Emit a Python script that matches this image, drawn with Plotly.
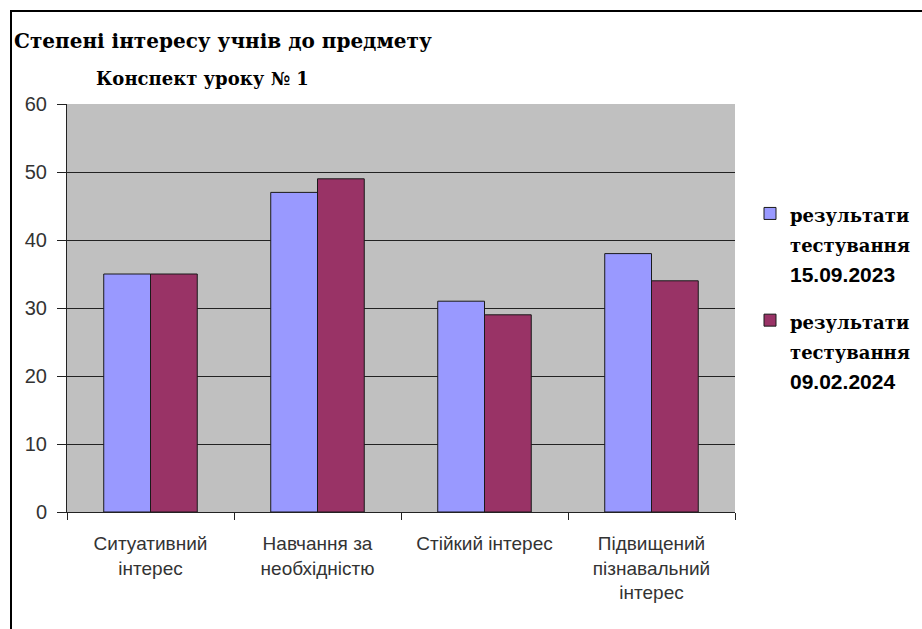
import plotly.graph_objects as go

# Data
categories = [
    "Ситуативний<br>інтерес",
    "Навчання за<br>необхідністю",
    "Стійкий інтерес",
    "Підвищений<br>пізнавальний<br>інтерес",
]
series_2023 = [35, 47, 31, 38]
series_2024 = [35, 49, 29, 34]
legend_lines_2023 = ["результати", "тестування", "15.09.2023"]
legend_lines_2024 = ["результати", "тестування", "09.02.2024"]
y_ticks = [0, 10, 20, 30, 40, 50, 60]

W, H = 922, 629
L, R, T, B = 67, 187, 104, 117
pw, ph = W - L - R, H - T - B

SERIF = "DejaVu Serif, Liberation Serif, serif"
SANS = "Liberation Sans, Arial, sans-serif"


def px_x(p):
    return (p - L) / pw


def px_y(p):
    return (H - B - p) / ph


def legend_label(lines):
    # two serif words above a sans-serif date, all bold
    return (
        f"<span style='font-family:{SERIF};font-size:18px'><b>{lines[0]}</b></span><br>"
        f"<span style='font-family:{SERIF};font-size:18px'><b>{lines[1]}</b></span><br>"
        f"<span style='font-family:{SANS};font-size:21px'><b>{lines[2]}</b></span>"
    )


fig = go.Figure()
fig.add_trace(go.Bar(
    x=categories, y=series_2023, name=legend_label(legend_lines_2023),
    legendgroup="first",
    marker=dict(color="#9999ff", line=dict(color="#1a1a1a", width=1)),
))
fig.add_trace(go.Bar(
    x=categories, y=series_2024, name=legend_label(legend_lines_2024),
    legendgroup="second",
    marker=dict(color="#993366", line=dict(color="#1a1a1a", width=1)),
))

# hide the gridline on the top edge of the plot area
fig.add_shape(
    type="line", xref="paper", yref="y",
    x0=0, x1=1, y0=y_ticks[-1], y1=y_ticks[-1],
    line=dict(color="#c0c0c0", width=3), layer="below",
)

# outer frame
fig.add_shape(
    type="rect", xref="paper", yref="paper",
    x0=px_x(11), x1=px_x(940), y0=px_y(650), y1=px_y(11),
    line=dict(color="black", width=2), fillcolor="rgba(0,0,0,0)",
    layer="above",
)

fig.add_annotation(
    text="<b>Степені інтересу учнів до предмету</b>",
    xref="paper", yref="paper", x=px_x(12), y=px_y(41),
    xanchor="left", yanchor="middle", showarrow=False,
    font=dict(family=SERIF, size=20, color="black"),
)
fig.add_annotation(
    text="<b>Конспект уроку № 1</b>",
    xref="paper", yref="paper", x=px_x(94), y=px_y(78),
    xanchor="left", yanchor="middle", showarrow=False,
    font=dict(family=SERIF, size=18, color="black"),
)

fig.update_layout(
    width=W, height=H,
    margin=dict(l=L, r=R, t=T, b=B, autoexpand=False),
    paper_bgcolor="white",
    plot_bgcolor="#c0c0c0",
    barmode="group",
    bargap=0.44,
    bargroupgap=0,
    showlegend=True,
    legend=dict(
        x=px_x(750), y=px_y(192), xanchor="left", yanchor="top",
        font=dict(family=SERIF, size=23, color="black"),
        valign="top",
        tracegroupgap=14,
        itemwidth=30,
        bgcolor="rgba(0,0,0,0)",
        traceorder="grouped",
    ),
    xaxis=dict(
        showline=True, linecolor="#222", linewidth=1,
        ticks="outside", tickson="boundaries", ticklen=7, tickcolor="#222",
        tickfont=dict(family=SANS, size=19, color="#333"),
        ticklabelstandoff=14,
        showgrid=False,
    ),
    yaxis=dict(
        range=[0, 60], tickvals=y_ticks,
        showline=True, linecolor="#222", linewidth=1,
        ticks="outside", ticklen=9, tickcolor="#222",
        tickfont=dict(family=SANS, size=20, color="#333"),
        ticklabelstandoff=6,
        showgrid=True, gridcolor="#222", gridwidth=1,
        zeroline=False,
    ),
)

fig.write_html("out.html")
